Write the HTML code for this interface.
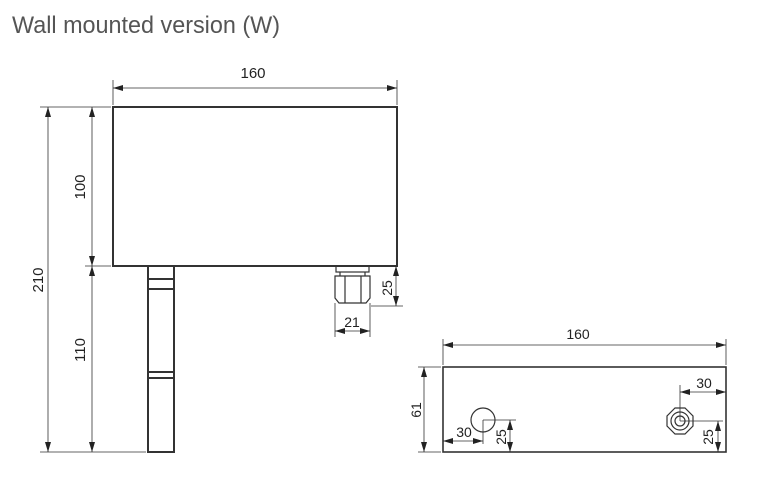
<!DOCTYPE html>
<html><head><meta charset="utf-8"><style>
html,body{margin:0;padding:0;background:#fff;width:768px;height:490px;overflow:hidden}
svg{display:block}
text{font-family:"Liberation Sans",sans-serif;fill:#222}
</style></head><body>
<svg width="768" height="490" viewBox="0 0 768 490" xmlns="http://www.w3.org/2000/svg">
<defs>
<marker id="a" viewBox="0 0 10 6" refX="10" refY="3" markerWidth="10" markerHeight="6" orient="auto-start-reverse" markerUnits="userSpaceOnUse"><path d="M0,0 L10,3 L0,6 z" fill="#222"/></marker>
</defs>
<text x="12" y="33" style="font-size:24px;fill:#555" textLength="268" lengthAdjust="spacingAndGlyphs">Wall mounted version (W)</text>
<g stroke="#333" fill="none" stroke-width="2">
<rect x="113" y="107" width="284" height="159"/>
<rect x="148" y="266" width="26" height="186"/>
<line x1="148" y1="279" x2="174" y2="279"/><line x1="148" y1="289" x2="174" y2="289"/>
<line x1="148" y1="372" x2="174" y2="372"/><line x1="148" y1="378" x2="174" y2="378"/>
</g>
<g stroke="#333" fill="none" stroke-width="1.2">
<rect x="336" y="266" width="33" height="6"/>
<line x1="340" y1="272" x2="340" y2="276"/><line x1="365" y1="272" x2="365" y2="276"/>
<path d="M335,276 H370 V298 L366,303 H339 L335,298 Z"/>
<line x1="345" y1="276" x2="345" y2="303"/><line x1="361" y1="276" x2="361" y2="303"/>
<rect x="443" y="367" width="283" height="85" stroke-width="1.6"/>
<circle cx="483" cy="420" r="12"/>
<polygon points="675,408 685,408 693,416 693,426 685,434 675,434 667,426 667,416"/>
<circle cx="680" cy="421" r="9"/><circle cx="680" cy="421" r="5"/>
</g>
<g stroke="#333" stroke-width="0.8" fill="none">
<line x1="113" y1="80" x2="113" y2="105"/><line x1="397" y1="80" x2="397" y2="105"/>
<line x1="113" y1="88" x2="397" y2="88" marker-start="url(#a)" marker-end="url(#a)"/>
<line x1="40" y1="107" x2="111" y2="107"/><line x1="40" y1="452" x2="146" y2="452"/>
<line x1="85" y1="266" x2="111" y2="266"/>
<line x1="48" y1="107" x2="48" y2="452" marker-start="url(#a)" marker-end="url(#a)"/>
<line x1="92" y1="107" x2="92" y2="266" marker-start="url(#a)" marker-end="url(#a)"/>
<line x1="92" y1="266" x2="92" y2="452" marker-start="url(#a)" marker-end="url(#a)"/>
<line x1="371" y1="306" x2="403" y2="306"/>
<line x1="396" y1="266" x2="396" y2="306" marker-start="url(#a)" marker-end="url(#a)"/>
<line x1="335" y1="303" x2="335" y2="337"/><line x1="370" y1="303" x2="370" y2="337"/>
<line x1="335" y1="331" x2="370" y2="331" marker-start="url(#a)" marker-end="url(#a)"/>
<line x1="443" y1="339" x2="443" y2="365"/><line x1="726" y1="339" x2="726" y2="365"/>
<line x1="443" y1="345" x2="726" y2="345" marker-start="url(#a)" marker-end="url(#a)"/>
<line x1="418" y1="367" x2="441" y2="367"/><line x1="418" y1="452" x2="441" y2="452"/>
<line x1="424" y1="367" x2="424" y2="452" marker-start="url(#a)" marker-end="url(#a)"/>
<line x1="483" y1="420" x2="516" y2="420"/><line x1="483" y1="420" x2="483" y2="444"/>
<line x1="443" y1="441" x2="483" y2="441" marker-start="url(#a)" marker-end="url(#a)"/>
<line x1="510" y1="420" x2="510" y2="452" marker-start="url(#a)" marker-end="url(#a)"/>
<line x1="680" y1="385" x2="680" y2="421"/><line x1="680" y1="421" x2="723" y2="421"/>
<line x1="680" y1="392" x2="726" y2="392" marker-start="url(#a)" marker-end="url(#a)"/>
<line x1="718" y1="421" x2="718" y2="452" marker-start="url(#a)" marker-end="url(#a)"/>
</g>
<g style="font-size:15px" text-anchor="middle">
<text x="253" y="78">160</text>
<text x="38" y="280" transform="rotate(-90 38 280)" dy="5">210</text>
<text x="80" y="187" transform="rotate(-90 80 187)" dy="5">100</text>
<text x="80" y="350" transform="rotate(-90 80 350)" dy="5">110</text>
<text x="352" y="327" style="font-size:14px">21</text>
<text x="387" y="288" transform="rotate(-90 387 288)" dy="5" style="font-size:14px">25</text>
<text x="578" y="339" style="font-size:14px">160</text>
<text x="416" y="410" transform="rotate(-90 416 410)" dy="5" style="font-size:14px">61</text>
<text x="464" y="437" style="font-size:14px">30</text>
<text x="501" y="437" transform="rotate(-90 501 437)" dy="5" style="font-size:14px">25</text>
<text x="704" y="388" style="font-size:14px">30</text>
<text x="708" y="437" transform="rotate(-90 708 437)" dy="5" style="font-size:14px">25</text>
</g>
</svg>
</body></html>
